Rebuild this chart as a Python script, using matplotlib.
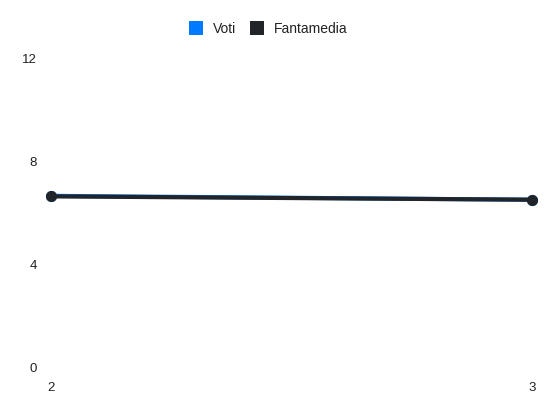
import matplotlib

matplotlib.use("Agg")

import matplotlib.pyplot as plt  # noqa: E402
from matplotlib.patches import Patch  # noqa: E402

# Data
giornate = [2, 3]
voti = [6.65, 6.5]
fantamedia = [6.63, 6.5]
y_ticks = [0, 4, 8, 12]

_BLUE = "#007bff"
_DARK = "#212529"
_TEXT = "#222222"

plt.rcParams["font.family"] = ["Liberation Sans", "DejaVu Sans"]

fig = plt.figure(figsize=(5.5, 4.12), dpi=100)
ax = fig.add_axes([0.0927, 0.109, 0.8743, 0.75])

ax.plot(giornate, voti, color=_BLUE, linewidth=3, marker="o", markersize=7,
        markerfacecolor=_BLUE, markeredgecolor=_BLUE, zorder=2, clip_on=False)
ax.plot(giornate, fantamedia, color=_DARK, linewidth=3, marker="o", markersize=7,
        markerfacecolor=_DARK, markeredgecolor=_DARK, zorder=3, clip_on=False)

ax.set_xlim(2, 3)
ax.set_ylim(0, 12)
ax.set_xticks(giornate)
ax.set_yticks(y_ticks)
for side in ax.spines.values():
    side.set_visible(False)
ax.tick_params(length=0, colors=_TEXT, labelsize=9.5)
ax.tick_params(axis="y", pad=10)
ax.tick_params(axis="x", pad=11)

handles = [Patch(facecolor=_BLUE, edgecolor="none", label="Voti"),
           Patch(facecolor=_DARK, edgecolor="none", label="Fantamedia")]
fig.legend(handles=handles, loc="upper center", bbox_to_anchor=(0.488, 0.98), ncol=2,
           frameon=False, fontsize=10, handlelength=1.0, handleheight=1.2,
           handletextpad=0.7, columnspacing=1.0, labelcolor=_TEXT)

fig.savefig("out.png", dpi=100)
